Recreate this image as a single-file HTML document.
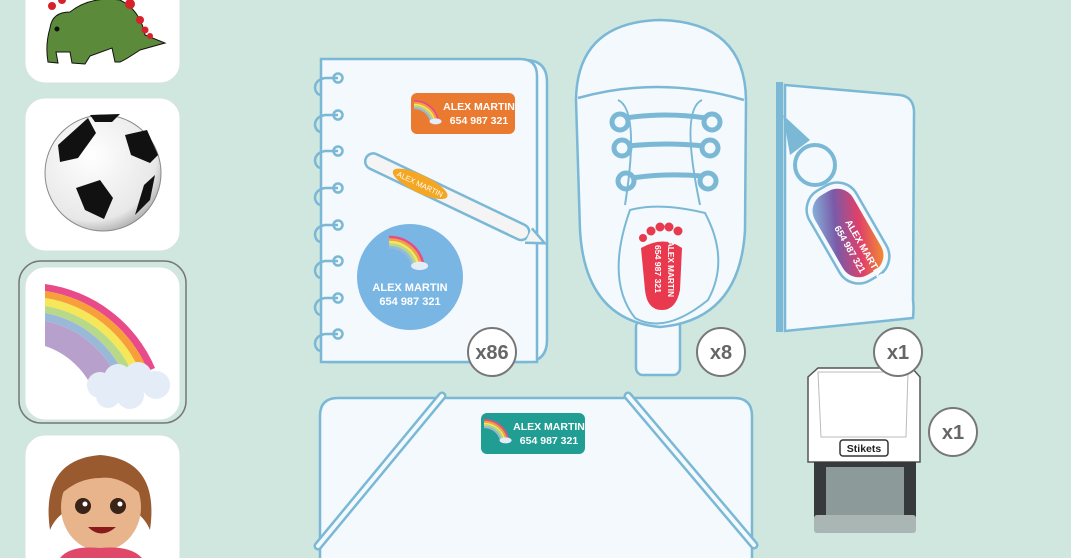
<!DOCTYPE html>
<html><head><meta charset="utf-8">
<style>
html,body{margin:0;padding:0;background:#cfe7df;}
svg{display:block}
text{font-family:"Liberation Sans",sans-serif;}
</style></head>
<body>
<svg width="1071" height="558" viewBox="0 0 1071 558" xmlns="http://www.w3.org/2000/svg">
<defs>
<linearGradient id="rb" x1="0" y1="0" x2="1" y2="1">
<stop offset="0" stop-color="#8ac6e6"/><stop offset="0.35" stop-color="#7a5aa8"/><stop offset="0.65" stop-color="#e0406a"/><stop offset="1" stop-color="#f5a020"/>
</linearGradient>
<radialGradient id="ball" cx="0.4" cy="0.35" r="0.7"><stop offset="0" stop-color="#fff"/><stop offset="0.8" stop-color="#e8e8e8"/><stop offset="1" stop-color="#aaa"/></radialGradient>
<g id="rainbow">
<path d="M0,0 A40,40 0 0 1 40,30" fill="none" stroke="#e94b8a" stroke-width="3"/>
<path d="M0,3 A37,37 0 0 1 37,31" fill="none" stroke="#f7a03a" stroke-width="3"/>
<path d="M0,6 A34,34 0 0 1 34,32" fill="none" stroke="#f5e65a" stroke-width="3"/>
<path d="M0,9 A31,31 0 0 1 31,33" fill="none" stroke="#b8d88a" stroke-width="3"/>
<path d="M0,12 A28,28 0 0 1 28,34" fill="none" stroke="#9ab8d8" stroke-width="3"/>
<ellipse cx="36" cy="34" rx="10" ry="5" fill="#e4ecf8"/>
</g>
</defs>
<rect width="1071" height="558" fill="#cfe7df"/>

<g fill="#fff">
<rect x="25" y="-20" width="155" height="103" rx="20" stroke="#d7e3de"/>
<rect x="25" y="98" width="155" height="153" rx="20" stroke="#d7e3de"/>
<rect x="19" y="261" width="167" height="162" rx="22" fill="none" stroke="#777" stroke-width="1.5"/>
<rect x="25" y="267" width="155" height="153" rx="20" stroke="#d7e3de"/>
<rect x="25" y="435" width="155" height="140" rx="20" stroke="#d7e3de"/>
</g>
<g stroke="#111" stroke-width="1">
<path d="M50,28 Q52,12 70,12 Q90,-4 120,0 Q140,10 145,35 L165,43 L140,50 Q125,60 120,62 L115,62 L112,48 L90,56 L85,64 L72,63 L70,52 L56,52 L58,63 L48,62 Q45,45 50,28 Z" fill="#5a8a3a"/>
<circle cx="57" cy="29" r="2" fill="#111"/>
</g>
<g fill="#d8202a"><circle cx="52" cy="6" r="4"/><circle cx="62" cy="0" r="4"/><circle cx="130" cy="4" r="5"/><circle cx="140" cy="20" r="4"/><circle cx="145" cy="30" r="3.5"/><circle cx="150" cy="36" r="3"/></g>
<circle cx="103" cy="173" r="58" fill="url(#ball)" stroke="#888"/>
<g fill="#111">
<polygon points="58,145 88,118 96,133 78,158 60,162"/>
<polygon points="125,135 147,130 158,155 150,163 131,155"/>
<polygon points="76,188 100,180 113,198 104,219 85,210"/>
<polygon points="144,185 155,175 150,200 135,215"/>
<polygon points="90,115 120,114 112,122 95,122"/>
</g>
<g>
<path d="M45,284 A140,140 0 0 1 155,368 L148,371 A132,132 0 0 0 45,291 Z" fill="#e94b8a"/>
<path d="M45,291 A132,132 0 0 1 148,371 L141,374 A124,124 0 0 0 45,298 Z" fill="#f7a03a"/>
<path d="M45,298 A124,124 0 0 1 141,374 L134,377 A116,116 0 0 0 45,306 Z" fill="#f5e65a"/>
<path d="M45,306 A116,116 0 0 1 134,377 L126,380 A108,108 0 0 0 45,313 Z" fill="#b8d88a"/>
<path d="M45,313 A108,108 0 0 1 126,380 L119,383 A100,100 0 0 0 45,321 Z" fill="#9ab8d8"/>
<path d="M45,321 A100,100 0 0 1 119,383 L94,392 A80,80 0 0 0 45,346 Z" fill="#b8a0cc"/>
<g fill="#e4ecf8"><circle cx="100" cy="385" r="13"/><circle cx="118" cy="378" r="14"/><circle cx="138" cy="376" r="14"/><circle cx="156" cy="385" r="14"/><circle cx="130" cy="395" r="14"/><circle cx="108" cy="396" r="12"/></g>
</g>
<g>
<path d="M50,530 Q40,460 100,455 Q160,460 150,530 Q140,505 100,500 Q60,505 50,530Z" fill="#9a5a30"/>
<ellipse cx="101" cy="507" rx="40" ry="44" fill="#e8b48c"/>
<path d="M60,495 Q65,458 100,458 Q140,458 142,495 Q120,475 100,478 Q78,478 60,495Z" fill="#9a5a30"/>
<circle cx="83" cy="506" r="8" fill="#3a2418"/><circle cx="118" cy="506" r="8" fill="#3a2418"/>
<circle cx="85" cy="504" r="2.5" fill="#fff"/><circle cx="120" cy="504" r="2.5" fill="#fff"/>
<path d="M88,527 Q101,540 116,527 Z" fill="#8a1a1a"/>
<path d="M60,558 Q70,545 100,548 Q130,545 142,558Z" fill="#e0486a"/>
</g>

<g stroke="#7ab8d6" stroke-width="2.5" fill="#f3f9fd">
<path d="M330,60 L525,60 Q547,60 547,82 L547,340 Q547,362 525,362 L330,362 Z"/>
<path d="M321,59 L520,59 Q537,59 537,76 L537,362 L321,362 Z"/>
</g>
<g stroke="#7ab8d6" stroke-width="2.5" fill="none">
<g id="ring"><circle cx="338" cy="78" r="4.5"/><path d="M338,78 L325,78 Q315,80 315,88 Q316,95 322,95"/></g>
<use href="#ring" y="37"/><use href="#ring" y="73"/><use href="#ring" y="110"/><use href="#ring" y="147"/><use href="#ring" y="183"/><use href="#ring" y="220"/><use href="#ring" y="256"/>
</g>
<rect x="411" y="93" width="104" height="41" rx="6" fill="#ea7a30"/>
<use href="#rainbow" transform="translate(414,101) scale(0.6)"/>
<text x="479" y="110" fill="#fff" font-size="10.5" font-weight="bold" text-anchor="middle">ALEX MARTIN</text>
<text x="479" y="124" fill="#fff" font-size="10.5" font-weight="bold" text-anchor="middle">654 987 321</text>
<g transform="translate(366,158) rotate(25.5)">
<rect x="0" y="-8" width="180" height="16" rx="8" fill="#f4f4f4" stroke="#7ab8d6" stroke-width="2.5"/>
<path d="M180,-8 L198,0 L180,8" fill="#f4f4f4" stroke="#7ab8d6" stroke-width="2.5"/>
<ellipse cx="60" cy="0" rx="30" ry="9" fill="#f5a623"/>
<text x="60" y="3" fill="#fff" font-size="7.5" text-anchor="middle">ALEX MARTIN</text>
</g>
<circle cx="410" cy="277" r="53" fill="#7ab6e4"/>
<use href="#rainbow" transform="translate(389,237) scale(0.85)"/>
<text x="410" y="291" fill="#fff" font-size="11" font-weight="bold" text-anchor="middle">ALEX MARTIN</text>
<text x="410" y="305" fill="#fff" font-size="11" font-weight="bold" text-anchor="middle">654 987 321</text>

<g stroke="#7ab8d6" stroke-width="2.5" fill="#f3f9fd">
<rect x="636" y="320" width="44" height="55" rx="7"/>
<path d="M660,20 Q745,22 746,100 L745,230 Q740,320 660,327 Q585,320 580,230 L576,100 Q577,22 660,20 Z"/>
<path d="M578,98 Q660,75 744,100" fill="none"/>
<path d="M625,205 Q640,110 618,100 M700,205 Q680,110 702,100" fill="none" stroke-width="2"/>
<path d="M630,210 Q660,202 705,213 Q730,260 708,300 Q665,335 635,318 Q605,280 630,210 Z" fill="none" stroke-width="2"/>
</g>
<g stroke="#7ab8d6" stroke-width="5" fill="none">
<circle cx="620" cy="122" r="8"/><circle cx="712" cy="122" r="8"/>
<circle cx="622" cy="148" r="8"/><circle cx="710" cy="148" r="8"/>
<circle cx="626" cy="181" r="8"/><circle cx="708" cy="181" r="8"/>
<path d="M626,118 Q665,112 706,118 M628,146 Q665,142 704,146 M632,178 Q665,173 702,176"/>
</g>
<g fill="#e8394e">
<path d="M641,248 Q664,235 682,248 L680,290 Q676,310 662,310 Q647,310 645,290 Z"/>
<circle cx="643" cy="238" r="4"/><circle cx="651" cy="231" r="4.5"/><circle cx="660" cy="227" r="4.5"/><circle cx="669" cy="227" r="4.5"/><circle cx="678" cy="231" r="4.5"/>
</g>
<text transform="translate(668,241) rotate(90)" fill="#fff" font-size="8.5" font-weight="bold" textLength="56" lengthAdjust="spacingAndGlyphs">ALEX MARTIN</text>
<text transform="translate(655,245) rotate(90)" fill="#fff" font-size="8.5" font-weight="bold" textLength="48" lengthAdjust="spacingAndGlyphs">654 987 321</text>

<g stroke="#7ab8d6" stroke-width="2.5" fill="#f3f9fd">
<path d="M785,85 L900,95 Q915,97 914,115 L913,300 Q914,306 913,318 L785,331 Z"/>
</g>
<rect x="776" y="82" width="7" height="250" fill="#7ab8d6"/>
<path d="M783,115 L810,140 L790,155 Z" fill="#7ab8d6"/>
<circle cx="815" cy="165" r="20" fill="none" stroke="#7ab8d6" stroke-width="4"/>
<g transform="translate(848,233) rotate(-30)">
<rect x="-27" y="-52" width="54" height="104" rx="22" fill="#f3f9fd" stroke="#7ab8d6" stroke-width="2.5"/>
<rect x="-22" y="-46" width="44" height="92" rx="18" fill="url(#rb)"/>
</g>
<text transform="translate(845,222) rotate(60)" fill="#fff" font-size="9.5" font-weight="bold">ALEX MARTIN</text>
<text transform="translate(834,228) rotate(60)" fill="#fff" font-size="9.5" font-weight="bold">654 987 321</text>

<g stroke="#555" stroke-width="1.5">
<path d="M818,368 L912,368 L920,377 L920,462 L808,462 L808,377 Z" fill="#fff"/>
<path d="M818,372 L908,372 L906,437 L821,437 Z" fill="none" stroke="#bbb" stroke-width="1"/>
</g>
<rect x="814" y="462" width="102" height="60" fill="#373a3c"/>
<rect x="826" y="467" width="78" height="50" fill="#8c9a99"/>
<rect x="814" y="515" width="102" height="18" rx="3" fill="#a9b6b3"/>
<rect x="840" y="440" width="48" height="16" rx="3" fill="#fff" stroke="#333" stroke-width="1.5"/>
<text x="864" y="452" fill="#222" font-size="10.5" font-weight="bold" text-anchor="middle">Stikets</text>

<path d="M320,558 L320,416 Q320,398 338,398 L734,398 Q752,398 752,416 L752,558" fill="#f3f9fd" stroke="#7ab8d6" stroke-width="2.5"/>
<g stroke="#7ab8d6" stroke-width="9" stroke-linecap="round"><line x1="442" y1="396" x2="318" y2="546"/><line x1="628" y1="396" x2="754" y2="545"/></g>
<g stroke="#f3f9fd" stroke-width="4" stroke-linecap="round"><line x1="442" y1="396" x2="318" y2="546"/><line x1="628" y1="396" x2="754" y2="545"/></g>
<rect x="481" y="413" width="104" height="41" rx="6" fill="#209e94"/>
<use href="#rainbow" transform="translate(484,420) scale(0.6)"/>
<text x="549" y="430" fill="#fff" font-size="10.5" font-weight="bold" text-anchor="middle">ALEX MARTIN</text>
<text x="549" y="444" fill="#fff" font-size="10.5" font-weight="bold" text-anchor="middle">654 987 321</text>

<g fill="#fff" stroke="#777" stroke-width="2">
<circle cx="492" cy="352" r="24"/><circle cx="721" cy="352" r="24"/><circle cx="898" cy="352" r="24"/><circle cx="953" cy="432" r="24"/>
</g>
<g fill="#666" font-size="20" font-weight="bold" text-anchor="middle">
<text x="492" y="359">x86</text><text x="721" y="359">x8</text><text x="898" y="359">x1</text><text x="953" y="439">x1</text>
</g>
</svg>
</body></html>
